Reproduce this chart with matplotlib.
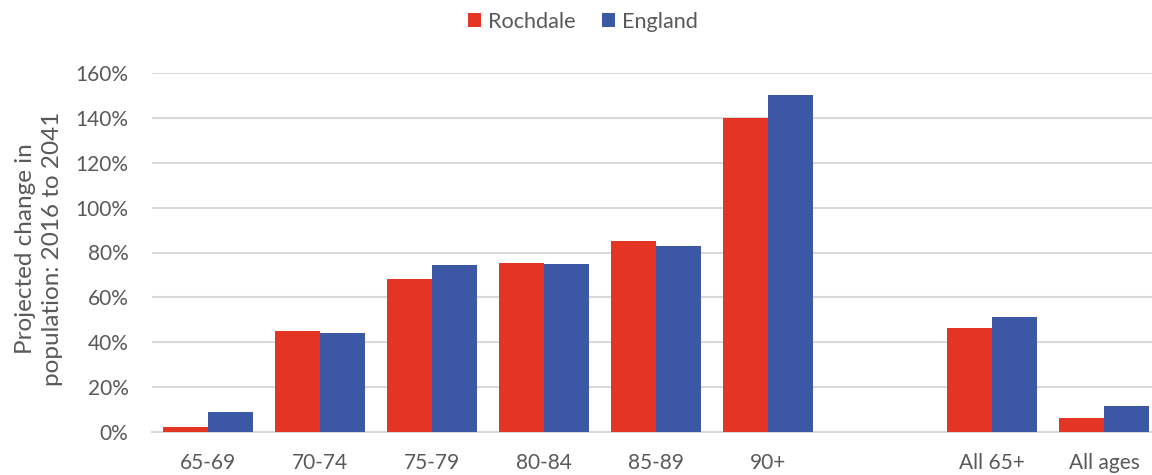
import matplotlib
matplotlib.use("Agg")
import matplotlib.pyplot as plt
import numpy as np
from matplotlib.ticker import FuncFormatter

categories = ["65-69", "70-74", "75-79", "80-84", "85-89", "90+", "", "All 65+", "All ages"]
rochdale = [2.2, 44.9, 68.0, 75.5, 85.1, 140.0, np.nan, 46.4, 6.4]
england = [8.9, 44.0, 74.4, 75.0, 83.1, 150.0, np.nan, 51.4, 11.7]
series_names = ["Rochdale", "England"]
y_ticks = [0, 20, 40, 60, 80, 100, 120, 140, 160]

RED = "#E33424"
BLUE = "#3C58A4"
TEXT = "#595959"
GRID = "#D9D9D9"

plt.rcParams["font.family"] = ["Lato", "DejaVu Sans"]

fig = plt.figure(figsize=(11.52, 4.75), dpi=100)
# plot area runs a little past the right edge of the canvas
ax = fig.add_axes([152 / 1152, 43 / 475, 1008 / 1152, 359 / 475])

x = np.arange(len(categories))
w = 0.40
ax.bar(x - w / 2, rochdale, width=w, color=RED, label=series_names[0], zorder=3)
ax.bar(x + w / 2, england, width=w, color=BLUE, label=series_names[1], zorder=3)

ax.set_xlim(-0.5, len(categories) - 0.5)
ax.set_ylim(0, 160)
ax.set_yticks(y_ticks)
ax.yaxis.set_major_formatter(FuncFormatter(lambda v, p: f"{v:.0f}%"))
ax.set_xticks(x)
ax.set_xticklabels(categories)

ax.grid(axis="y", color=GRID, linewidth=1.5, zorder=0)
for s in ["top", "right", "left"]:
    ax.spines[s].set_visible(False)
ax.spines["bottom"].set_color(GRID)
ax.spines["bottom"].set_linewidth(1.5)
ax.tick_params(axis="both", length=0, labelsize=15, labelcolor=TEXT)
ax.tick_params(axis="x", pad=15)
ax.tick_params(axis="y", pad=17)

fig.text(39 / 1152, 1 - 249 / 475, "Projected change in\npopulation: 2016 to 2041",
         rotation=90, ha="center", va="center", multialignment="center",
         fontsize=17.5, color=TEXT, linespacing=1.38)

fig.legend(loc="center", bbox_to_anchor=(583 / 1152, 1 - 22 / 475), ncol=2,
           frameon=False, fontsize=15.6, labelcolor=TEXT, handlelength=0.6,
           handleheight=0.6, handletextpad=0.35, columnspacing=1.2)

fig.savefig("out.png", dpi=100, facecolor="white")
